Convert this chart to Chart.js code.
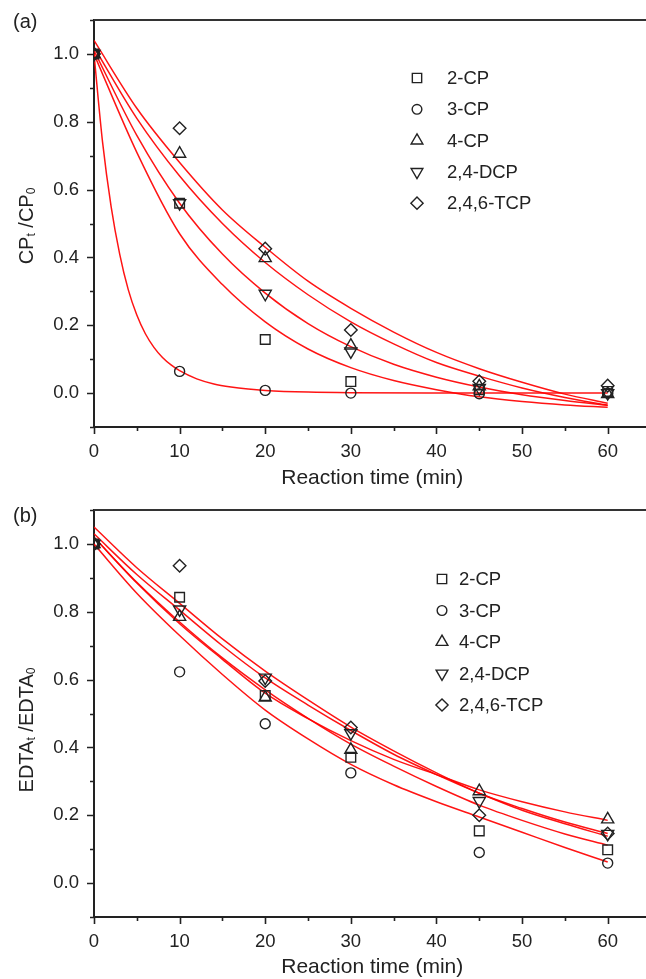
<!DOCTYPE html>
<html lang="en">
<head>
  <meta charset="UTF-8" />
  <title>CP and EDTA decay</title>
  <script src="https://cdn.jsdelivr.net/npm/chart.js@4.4.1/dist/chart.umd.min.js"></script>
  <style>
    html, body { margin: 0; padding: 0; background: #fff; overflow: hidden; }
    .panel { position: absolute; left: 0; width: 660px; height: 490px; }
    .tag { position: absolute; left: 13px; font: 20px "Liberation Sans", Arial, sans-serif; line-height: 24px; color: #222; }
  </style>
</head>
<body>
  <div class="panel" style="top:0"><canvas id="chartA" width="660" height="490"></canvas></div>
  <div class="panel" style="top:490px"><canvas id="chartB" width="660" height="490"></canvas></div>
  <div class="tag" style="top:9px">(a)</div>
  <div class="tag" style="top:503px">(b)</div>

  <script>
    // sampling times of the measured points (min)
    const times = [0, 10, 20, 30, 45, 60];
    const seriesNames = ["2-CP", "3-CP", "4-CP", "2,4-DCP", "2,4,6-TCP"];

    // tick labels
    const xTickLabels = [0, 10, 20, 30, 40, 50, 60];
    const yTickLabels = [0.0, 0.2, 0.4, 0.6, 0.8, 1.0];

    // (a) CPt/CP0 measured
    const a2CP  = [1.00, 0.560, 0.158, 0.034, 0.010, 0.005];
    const a3CP  = [1.00, 0.064, 0.008, 0.000, -0.002, 0.000];
    const a4CP  = [1.00, 0.706, 0.398, 0.140, 0.020, -0.003];
    const aDCP  = [1.00, 0.560, 0.293, 0.123, 0.015, 0.000];
    const aTCP  = [1.00, 0.781, 0.426, 0.186, 0.035, 0.022];

    // (b) EDTAt/EDTA0 measured
    const b2CP  = [1.00, 0.843, 0.553, 0.371, 0.154, 0.098];
    const b3CP  = [1.00, 0.623, 0.470, 0.325, 0.090, 0.059];
    const b4CP  = [1.00, 0.785, 0.547, 0.393, 0.271, 0.188];
    const bDCP  = [1.00, 0.807, 0.606, 0.442, 0.242, 0.145];
    const bTCP  = [1.00, 0.936, 0.596, 0.459, 0.200, 0.146];

    // fitted curves
    const fitTimes = [0, 5, 10, 15, 20, 25, 30, 35, 40, 45, 50, 55, 60];
    const fitA2CP = [1.00, 0.71, 0.47, 0.32, 0.21, 0.13, 0.075, 0.037, 0.010, -0.011, -0.025, -0.035, -0.042];
    const fitA4CP = [1.02, 0.81, 0.64, 0.50, 0.385, 0.29, 0.21, 0.145, 0.090, 0.050, 0.015, -0.013, -0.036];
    const fitADCP = [1.01, 0.76, 0.56, 0.41, 0.295, 0.205, 0.137, 0.085, 0.047, 0.018, -0.005, -0.022, -0.036];
    const fitATCP = [1.04, 0.84, 0.68, 0.54, 0.43, 0.33, 0.25, 0.18, 0.12, 0.072, 0.032, -0.003, -0.030];
    const fastTimes = [0, 1, 2, 3, 4, 5, 6, 7, 8, 9, 10, 12, 14, 16, 18, 20, 25, 30, 40, 50, 60];
    const fitA3CP = [1.00, 0.74, 0.55, 0.41, 0.305, 0.23, 0.175, 0.135, 0.105, 0.083, 0.066, 0.042, 0.027, 0.018, 0.012, 0.008, 0.003, 0.001, 0, 0, 0];

    const fitB2CP = [1.02, 0.887, 0.77, 0.664, 0.57, 0.486, 0.41, 0.345, 0.285, 0.23, 0.185, 0.145, 0.112];
    const fitB3CP = [1.00, 0.855, 0.73, 0.615, 0.51, 0.425, 0.35, 0.29, 0.24, 0.195, 0.15, 0.105, 0.062];
    const fitB4CP = [1.02, 0.885, 0.765, 0.66, 0.56, 0.485, 0.42, 0.365, 0.32, 0.275, 0.24, 0.21, 0.185];
    const fitBDCP = [1.03, 0.91, 0.805, 0.70, 0.605, 0.525, 0.45, 0.38, 0.32, 0.265, 0.215, 0.175, 0.138];
    const fitBTCP = [1.05, 0.93, 0.825, 0.72, 0.625, 0.54, 0.46, 0.39, 0.325, 0.265, 0.22, 0.18, 0.146];

    const FONT = '"Liberation Sans", Arial, sans-serif';
    const INK = "#222";
    Chart.defaults.font.family = FONT;
    Chart.defaults.color = INK;

    // marker shapes: square, circle, up triangle, down triangle, diamond
    const markers = [
      { pointStyle: "rect", radius: 6.8, rotation: 0 },
      { pointStyle: "circle", radius: 5, rotation: 0 },
      { pointStyle: "triangle", radius: 7, rotation: 0 },
      { pointStyle: "triangle", radius: 7, rotation: 180 },
      { pointStyle: "rectRot", radius: 6.3, rotation: 0 }
    ];

    function pts(ts, vs) {
      return ts.map((t, i) => ({ x: t, y: vs[i] }));
    }

    // ticks (major + minor) and the top/right frame
    const frameTicks = {
      id: "frameTicks",
      afterDraw(chart) {
        const { ctx, chartArea: ca, scales: { x, y } } = chart;
        ctx.save();
        ctx.strokeStyle = INK;
        ctx.lineWidth = 1.6;
        ctx.beginPath();
        x.ticks.forEach(t => {
          const px = Math.round(x.getPixelForValue(t.value)) + 0.5;
          const len = Math.round(t.value) % 10 === 0 ? 7 : 4;
          ctx.moveTo(px, ca.bottom);
          ctx.lineTo(px, ca.bottom + len);
        });
        y.ticks.forEach(t => {
          const py = Math.round(y.getPixelForValue(t.value)) + 0.5;
          const len = Math.round(t.value * 10) % 2 === 0 ? 7 : 4;
          ctx.moveTo(ca.left, py);
          ctx.lineTo(ca.left - len, py);
        });
        ctx.stroke();
        ctx.lineWidth = 2;
        ctx.strokeStyle = "#333";
        ctx.beginPath();
        ctx.moveTo(ca.left, ca.top);
        ctx.lineTo(ca.right, ca.top);
        ctx.lineTo(ca.right, ca.bottom);
        ctx.stroke();
        ctx.restore();
      }
    };

    // y title with subscripts, and the symbol legend
    const extras = {
      id: "extras",
      afterDraw(chart, args, opts) {
        const { ctx } = chart;
        ctx.save();
        // rotated y title
        ctx.translate(opts.titleX, opts.titleY);
        ctx.rotate(-Math.PI / 2);
        ctx.fillStyle = INK;
        ctx.textBaseline = "alphabetic";
        let total = 0;
        opts.titleParts.forEach(p => {
          ctx.font = (p[1] ? "12px " : "20px ") + FONT;
          total += ctx.measureText(p[0]).width;
        });
        let cx = -total / 2;
        opts.titleParts.forEach(p => {
          ctx.font = (p[1] ? "12px " : "20px ") + FONT;
          ctx.fillText(p[0], cx, p[1] ? 2 : 0);
          cx += ctx.measureText(p[0]).width;
        });
        ctx.restore();

        // legend
        ctx.save();
        ctx.font = "18.5px " + FONT;
        ctx.textBaseline = "middle";
        ctx.fillStyle = INK;
        let row = 0;
        chart.data.datasets.forEach(ds => {
          if (!ds.label) return;
          const ry = opts.legendY + row * opts.legendStep;
          ctx.strokeStyle = INK;
          ctx.fillStyle = "rgba(0,0,0,0)";
          ctx.lineWidth = 1.4;
          Chart.helpers.drawPoint(ctx, {
            pointStyle: ds.pointStyle,
            rotation: ds.rotation,
            radius: ds.pointRadius * 0.97,
            borderWidth: 1.4
          }, opts.legendX, ry);
          ctx.fillStyle = INK;
          ctx.fillText(ds.label, opts.legendTextX, ry + 1);
          row++;
        });
        ctx.restore();
      }
    };

    function makePanel(id, measured, fits, extraOpts) {
      const datasets = [];
      measured.forEach((vals, i) => {
        datasets.push({
          label: seriesNames[i],
          data: pts(times, vals),
          showLine: false,
          pointStyle: markers[i].pointStyle,
          rotation: markers[i].rotation,
          pointRadius: markers[i].radius,
          pointBackgroundColor: "rgba(0,0,0,0)",
          pointBorderColor: INK,
          pointBorderWidth: 1.4
        });
      });
      fits.forEach(f => {
        datasets.push({
          data: pts(f[0], f[1]),
          showLine: true,
          borderColor: "rgba(255,0,0,0.92)",
          borderWidth: 1.5,
          pointRadius: 0,
          cubicInterpolationMode: "monotone",
          fill: false
        });
      });

      return new Chart(document.getElementById(id), {
        type: "scatter",
        data: { datasets },
        options: {
          responsive: false,
          animation: false,
          layout: { padding: { top: 18, right: 9, left: 0, bottom: 0 } },
          plugins: {
            legend: { display: false },
            tooltip: { enabled: false },
            extras: extraOpts
          },
          scales: {
            x: {
              type: "linear",
              min: 0,
              max: 65,
              afterFit: s => { s.height = 63; },
              ticks: {
                stepSize: 5,
                autoSkip: false,
                maxRotation: 0,
                padding: 9.5,
                font: { size: 18.5, lineHeight: 1 },
                callback: v => xTickLabels.includes(v) ? String(v) : ""
              },
              grid: { display: true, drawOnChartArea: false, tickLength: 6, tickColor: "rgba(0,0,0,0)" },
              border: { display: true, color: INK, width: 2 },
              title: {
                display: true,
                text: "Reaction time (min)",
                font: { size: 21, lineHeight: 1 },
                padding: { top: 0, bottom: extraOpts.xTitlePad }
              }
            },
            y: {
              type: "linear",
              min: -0.1,
              max: 1.1,
              afterFit: s => { s.width = 94; },
              ticks: {
                stepSize: 0.1,
                autoSkip: false,
                padding: 9,
                font: { size: 18.5 },
                callback: v => yTickLabels.some(l => Math.abs(l - v) < 1e-6) ? v.toFixed(1) : ""
              },
              grid: { display: true, drawOnChartArea: false, tickLength: 6, tickColor: "rgba(0,0,0,0)" },
              border: { display: true, color: INK, width: 2 }
            }
          }
        },
        plugins: [frameTicks, extras]
      });
    }

    makePanel("chartA",
      [a2CP, a3CP, a4CP, aDCP, aTCP],
      [[fitTimes, fitA2CP], [fastTimes, fitA3CP], [fitTimes, fitA4CP], [fitTimes, fitADCP], [fitTimes, fitATCP]],
      {
        titleParts: [["CP", false], ["t", true], [" /CP", false], ["0", true]],
        titleX: 33, titleY: 226,
        legendX: 417, legendTextX: 447, legendY: 78, legendStep: 31.3,
        xTitlePad: 1
      });

    makePanel("chartB",
      [b2CP, b3CP, b4CP, bDCP, bTCP],
      [[fitTimes, fitB2CP], [fitTimes, fitB3CP], [fitTimes, fitB4CP], [fitTimes, fitBDCP], [fitTimes, fitBTCP]],
      {
        titleParts: [["EDTA", false], ["t", true], [" /EDTA", false], ["0", true]],
        titleX: 33, titleY: 240,
        legendX: 442, legendTextX: 459, legendY: 89, legendStep: 31.5,
        xTitlePad: 2
      });
  </script>
</body>
</html>
